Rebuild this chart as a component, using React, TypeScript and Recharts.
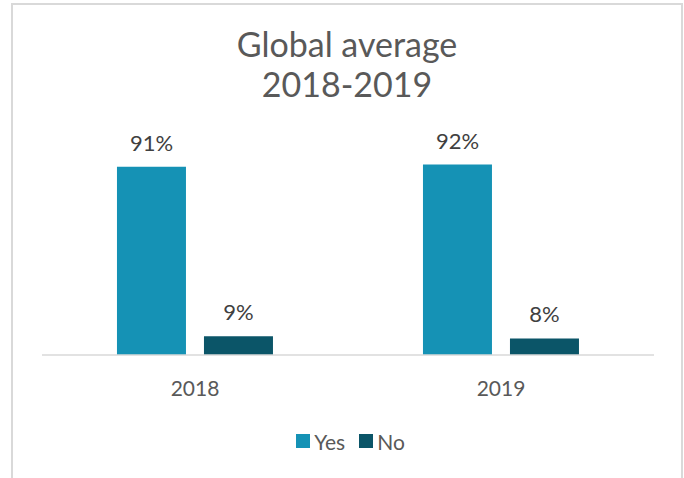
import { BarChart, Bar, XAxis, YAxis, Legend, LabelList } from 'recharts'

const YEARS = ['2018', '2019']
const SERIES = ['Yes', 'No']
const YES = [0.91, 0.92]
const NO = [0.09, 0.08]

const COLORS = { yes: '#1592B5', no: '#0B5568' }
const FONT = 'Lato, "Open Sans", sans-serif'

const data = YEARS.map((year, i) => ({ year, Yes: YES[i], No: NO[i] }))

const pct = (v: number) => `${Math.round(v * 100)}%`

function LegendContent({ payload }: any) {
  const items = [...(payload || [])].sort(
    (a: any, b: any) => SERIES.indexOf(a.value) - SERIES.indexOf(b.value)
  )
  return (
    <div
      style={{
        height: 30,
        display: 'flex',
        alignItems: 'center',
        justifyContent: 'center',
        gap: 14,
        paddingLeft: 5,
        fontFamily: FONT,
        fontSize: 21,
        color: '#595959',
      }}
    >
      {items.map((p: any) => (
        <span key={p.value} style={{ display: 'flex', alignItems: 'center' }}>
          <span style={{ width: 14, height: 14, background: p.color, marginRight: 4 }} />
          {p.value}
        </span>
      ))}
    </div>
  )
}

export default function App() {
  return (
    <div style={{ position: 'absolute', left: 0, top: 0, width: 684, height: 478, overflow: 'hidden', background: '#fff' }}>
      <div
        style={{
          position: 'absolute',
          left: 11,
          top: 3,
          width: 668,
          height: 520,
          border: '2px solid #D9D9D9',
        }}
      />
      <div
        style={{
          position: 'absolute',
          left: 12,
          width: 670,
          top: 24,
          textAlign: 'center',
          fontFamily: FONT,
          fontSize: 34,
          lineHeight: '40px',
          color: '#595959',
        }}
      >
        Global average
        <br />
        2018-2019
      </div>
      <BarChart
        width={684}
        height={478}
        data={data}
        margin={{ top: 148, right: 30, bottom: 22, left: 42 }}
        barCategoryGap="24.5%"
        barGap={18}
        style={{ position: 'absolute', left: 0, top: 0 }}
      >
        <XAxis
          dataKey="year"
          height={71}
          axisLine={{ stroke: '#D9D9D9', strokeWidth: 1.5 }}
          tickLine={false}
          tickSize={0}
          tickMargin={26}
          tick={{ fill: '#595959', fontSize: 21, fontFamily: FONT }}
        />
        <YAxis hide domain={[0, 1]} />
        <Legend verticalAlign="bottom" height={30} content={<LegendContent />} />
        <Bar dataKey="Yes" fill={COLORS.yes} isAnimationActive={false}>
          <LabelList dataKey="Yes" position="top" offset={16} formatter={pct} fill="#404040" fontSize={22} fontFamily={FONT} />
        </Bar>
        <Bar dataKey="No" fill={COLORS.no} isAnimationActive={false}>
          <LabelList dataKey="No" position="top" offset={16} formatter={pct} fill="#404040" fontSize={22} fontFamily={FONT} />
        </Bar>
      </BarChart>
    </div>
  )
}
